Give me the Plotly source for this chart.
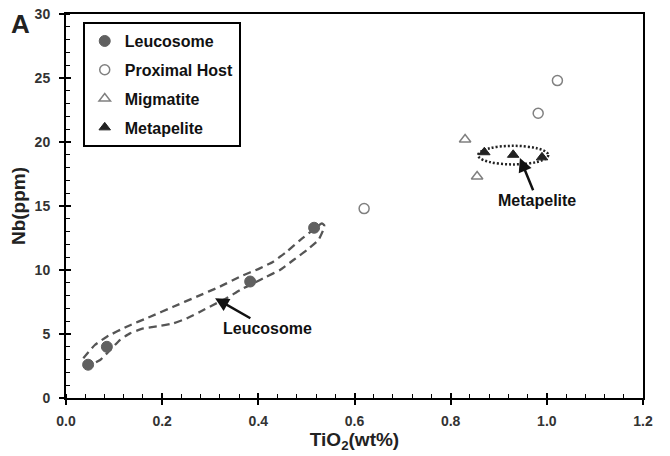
import plotly.graph_objects as go

FONT = "Arial, Liberation Sans, sans-serif"

# Data
leuco_x = [0.046, 0.085, 0.383, 0.516]
leuco_y = [2.6, 4.0, 9.1, 13.3]
host_x = [0.62, 0.982, 1.022]
host_y = [14.8, 22.25, 24.8]
migm_x = [0.83, 0.855]
migm_y = [20.2, 17.3]
meta_x = [0.87, 0.93, 0.99]
meta_y = [19.2, 19.0, 18.8]

# Dashed outline around leucosome samples (data coords)
outline_x = [0.036, 0.060, 0.085, 0.126, 0.175, 0.223, 0.272, 0.320, 0.362, 0.403, 0.431, 0.459,
             0.487, 0.514, 0.532, 0.537, 0.535, 0.525, 0.501, 0.473, 0.445, 0.417, 0.390, 0.362,
             0.334, 0.306, 0.279, 0.251, 0.223, 0.196, 0.161, 0.133, 0.112, 0.092, 0.071, 0.058]
outline_y = [3.10, 4.14, 4.79, 5.57, 6.35, 7.13, 7.92, 8.70, 9.48, 10.13, 10.65, 11.43,
             12.34, 13.13, 13.65, 13.5, 13.13, 12.34, 11.56, 10.78, 10.0, 9.48, 8.96, 8.44,
             7.79, 7.27, 6.74, 6.22, 5.83, 5.63, 5.44, 5.05, 4.53, 3.75, 2.97, 2.71]

x_ticks = [0.0, 0.2, 0.4, 0.6, 0.8, 1.0, 1.2]
y_ticks = [0, 5, 10, 15, 20, 25, 30]

fig = go.Figure()

fig.add_trace(go.Scatter(x=outline_x, y=outline_y, mode="lines", showlegend=False,
                         line=dict(color="#555555", width=2.3, dash="8px,5px", shape="spline", smoothing=0.4),
                         hoverinfo="skip"))

fig.add_trace(go.Scatter(x=leuco_x, y=leuco_y, mode="markers", name="Leucosome", legendgroup="a",
                         marker=dict(symbol="circle", size=11, color="#606060", line=dict(color="#606060", width=1))))
fig.add_trace(go.Scatter(x=host_x, y=host_y, mode="markers", name="Proximal Host", legendgroup="b",
                         marker=dict(symbol="circle", size=10, color="white", line=dict(color="#808080", width=1.5))))
fig.add_trace(go.Scatter(x=migm_x, y=migm_y, mode="markers", name="Migmatite", legendgroup="c",
                         marker=dict(symbol="triangle-up", size=10, color="white", line=dict(color="#808080", width=1.5))))
fig.add_trace(go.Scatter(x=meta_x, y=meta_y, mode="markers", name="Metapelite", legendgroup="d",
                         marker=dict(symbol="triangle-up", size=10, color="#222222", line=dict(color="#222222", width=1))))

# Dotted ellipse around metapelite
fig.add_shape(type="circle", xref="x", yref="y", x0=0.857, x1=1.003, y0=18.25, y1=19.7,
              line=dict(color="#222222", width=2.5, dash="2px,2px"))

# Labelled arrows (text at tail, arrow to head)
fig.add_annotation(x=0.944, y=18.75, ax=0.98, ay=15.45, xref="x", yref="y", axref="x", ayref="y",
                   text="Metapelite", showarrow=True, arrowhead=2, arrowsize=1.1, arrowwidth=2.5,
                   arrowcolor="#111111", font=dict(family=FONT, size=16, color="#111111", weight="bold"))
fig.add_annotation(x=0.31, y=7.8, ax=0.42, ay=5.45, xref="x", yref="y", axref="x", ayref="y",
                   text="Leucosome", showarrow=True, arrowhead=2, arrowsize=1.1, arrowwidth=2.5,
                   arrowcolor="#111111", font=dict(family=FONT, size=16, color="#111111", weight="bold"))

# Panel label
fig.add_annotation(x=-0.078, y=0.975, xref="paper", yref="paper", text="A", showarrow=False,
                   xanchor="center", yanchor="middle",
                   font=dict(family=FONT, size=26, color="#222222", weight="bold"))

axis_common = dict(showline=True, linecolor="black", linewidth=2, mirror=True, showgrid=False, zeroline=False,
                   ticks="outside", ticklen=5, tickwidth=1.5, tickcolor="black", automargin=False,
                   tickfont=dict(family=FONT, size=14, color="#333333", weight="bold"))

fig.update_layout(
    width=670, height=456,
    margin=dict(l=66, r=27, t=14, b=58),
    paper_bgcolor="white", plot_bgcolor="white",
    font=dict(family=FONT),
    xaxis=dict(range=[0, 1.2], tickvals=x_ticks, ticktext=[f"{v:.1f}" for v in x_ticks],
               minor=dict(dtick=0.04, ticks="inside", ticklen=4, tickwidth=1, tickcolor="black"),
               ticklabelstandoff=4,
               title=dict(text="TiO<sub>2</sub>(wt%)", font=dict(family=FONT, size=19, color="#222222", weight="bold"),
                          standoff=4),
               **axis_common),
    yaxis=dict(range=[0, 30], tickvals=y_ticks,
               minor=dict(dtick=1, ticks="inside", ticklen=4, tickwidth=1, tickcolor="black"),
               ticklabelstandoff=6,
               title=dict(text="Nb(ppm)", font=dict(family=FONT, size=19, color="#222222", weight="bold"),
                          standoff=4),
               **axis_common),
    xaxis2=dict(overlaying="x", matches="x", range=[0, 1.2], tickvals=x_ticks, showticklabels=False,
                ticks="inside", ticklen=5, tickwidth=1.5, tickcolor="black", showgrid=False, zeroline=False,
                showline=False, side="bottom"),
    yaxis2=dict(overlaying="y", matches="y", range=[0, 30], tickvals=y_ticks, showticklabels=False,
                ticks="inside", ticklen=5, tickwidth=1.5, tickcolor="black", showgrid=False, zeroline=False,
                showline=False, side="left"),
    legend=dict(x=0.029, y=0.979, xanchor="left", yanchor="top", bgcolor="white",
                bordercolor="black", borderwidth=2, tracegroupgap=5,
                font=dict(family=FONT, size=16, color="#111111", weight="bold"),
                itemwidth=30),
)

# invisible trace on the overlay axes so they render
fig.add_trace(go.Scatter(x=[0], y=[0], xaxis="x2", yaxis="y2", mode="markers", showlegend=False,
                         marker=dict(opacity=0), hoverinfo="skip"))

fig.write_html("out.html")
